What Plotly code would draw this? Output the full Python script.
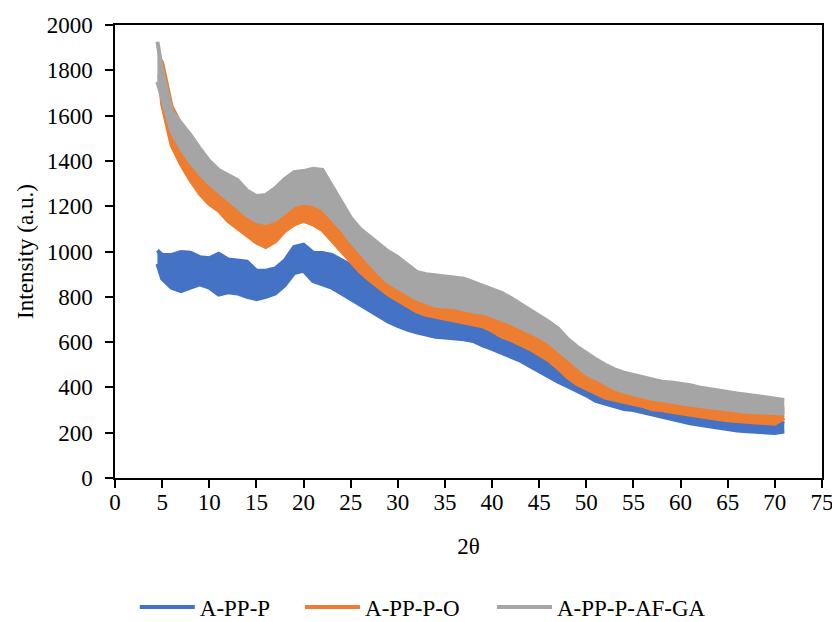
import plotly.graph_objects as go

# 2θ grid (degrees)
two_theta = [4.5] + list(range(5, 72))
two_theta_o = [4.7] + list(range(5, 72))

# A-PP-P band (upper / lower envelope of the noisy trace)
appp_hi = [1005, 985, 985, 998, 995, 975, 970, 990, 965, 960, 955, 915, 915, 925, 960,
           1020, 1030, 995, 993, 985, 960, 940, 900, 860, 825, 795, 770, 748, 732, 720,
           712, 708, 705, 700, 692, 685, 675, 655, 630, 595, 570, 545, 515, 490, 455,
           430, 410, 390, 370, 355, 345, 335, 320, 310, 300, 292, 285, 278, 275, 271,
           268, 262, 258, 255, 252, 250, 255, 240]
appp_lo = [945, 880, 840, 825, 840, 855, 840, 810, 820, 815, 800, 790, 800, 815, 850,
           905, 915, 870, 855, 840, 815, 790, 765, 742, 715, 690, 672, 655, 643, 632,
           624, 620, 617, 612, 605, 585, 570, 552, 535, 518, 495, 470, 450, 425, 405,
           385, 365, 340, 328, 315, 305, 300, 290, 282, 270, 262, 250, 242, 235, 228,
           222, 215, 210, 206, 204, 202, 199, 205]

# A-PP-P-O band
apppo_hi = [1850, 1835, 1640, 1560, 1470, 1410, 1360, 1320, 1290, 1260, 1220, 1190, 1180,
            1190, 1225, 1250, 1255, 1250, 1240, 1200, 1150, 1100, 1050, 1005, 965, 930,
            900, 870, 845, 830, 820, 815, 810, 800, 790, 780, 770, 755, 735, 715, 690,
            665, 640, 605, 570, 540, 500, 475, 450, 430, 415, 400, 390, 380, 372, 365,
            358, 350, 343, 337, 332, 327, 322, 318, 315, 312, 310, 308]
apppo_lo = [1780, 1650, 1470, 1385, 1315, 1255, 1210, 1180, 1135, 1105, 1070, 1040, 1020,
            1045, 1090, 1120, 1135, 1120, 1095, 1050, 1000, 955, 910, 874, 840, 810, 785,
            760, 735, 720, 712, 705, 698, 688, 680, 670, 650, 625, 610, 592, 570, 545,
            520, 485, 445, 415, 395, 375, 355, 345, 337, 330, 318, 303, 300, 292, 285,
            278, 272, 266, 260, 255, 250, 248, 245, 243, 240, 265]

# A-PP-P-AF-GA band
appag_hi = [1926, 1800, 1620, 1570, 1515, 1455, 1400, 1360, 1335, 1315, 1270, 1245, 1250,
            1280, 1320, 1350, 1355, 1365, 1360, 1290, 1220, 1150, 1100, 1065, 1030, 1000,
            975, 940, 910, 900, 896, 892, 888, 880, 865, 850, 835, 818, 795, 770, 745,
            720, 690, 660, 615, 580, 550, 525, 500, 480, 465, 455, 441, 433, 425, 422,
            418, 410, 400, 392, 386, 380, 373, 368, 364, 358, 353, 345]
appag_lo = [1750, 1680, 1530, 1455, 1395, 1345, 1300, 1265, 1230, 1200, 1160, 1135, 1125,
            1140, 1170, 1205, 1215, 1210, 1190, 1145, 1100, 1045, 995, 950, 905, 865, 840,
            815, 792, 775, 760, 757, 755, 745, 735, 730, 715, 700, 685, 665, 645, 625,
            600, 565, 530, 495, 460, 440, 415, 395, 380, 368, 360, 350, 345, 338, 330,
            323, 318, 312, 308, 302, 297, 293, 290, 288, 287, 285]

series = [
    ("A-PP-P", two_theta, appp_hi, appp_lo, "#4472C4", "legend", 0.162),
    ("A-PP-P-O", two_theta_o, apppo_hi, apppo_lo, "#ED7D31", "legend2", 0.3606),
    ("A-PP-P-AF-GA", two_theta, appag_hi, appag_lo, "#A5A5A5", "legend3", 0.5913),
]

FONT = "'Liberation Serif', 'Times New Roman', Times, serif"

fig = go.Figure()
legends = {}
for name, xs, hi, lo, col, lg, lx in series:
    fig.add_trace(go.Scatter(x=xs, y=hi, mode="lines", name=name,
                             line=dict(color=col, width=4), legendgroup=name,
                             legend=lg, hoverinfo="skip"))
    fig.add_trace(go.Scatter(x=xs, y=lo, mode="lines", name=name,
                             line=dict(color=col, width=4), legendgroup=name,
                             legend=lg, fill="tonexty", fillcolor=col,
                             showlegend=False, hoverinfo="skip"))
    legends[lg] = dict(orientation="h", xref="container", yref="container",
                       x=lx, xanchor="left", y=0.024, yanchor="middle",
                       font=dict(family=FONT, size=23, color="black"),
                       itemwidth=55, bgcolor="rgba(0,0,0,0)")

axis_common = dict(showline=True, linecolor="black", linewidth=1.5, mirror=True,
                   ticks="outside", ticklen=8, tickwidth=1.5, tickcolor="black",
                   showgrid=False, zeroline=False, automargin=False,
                   ticklabeloverflow="allow",
                   tickfont=dict(family=FONT, size=23, color="black"))

fig.update_layout(
    width=832, height=622,
    margin=dict(l=115, r=10, t=25, b=144),
    paper_bgcolor="white", plot_bgcolor="white",
    font=dict(family=FONT, size=23, color="black"),
    xaxis=dict(range=[0, 75], tickmode="linear", tick0=0, dtick=5,
               ticklabelstandoff=-5,
               title=dict(text="2θ", font=dict(family=FONT, size=23), standoff=24),
               **axis_common),
    yaxis=dict(range=[0, 2000], tickmode="linear", tick0=0, dtick=200,
               ticklabelstandoff=8,
               title=dict(text="Intensity (a.u.)", font=dict(family=FONT, size=23), standoff=7),
               **axis_common),
    showlegend=True,
    **legends,
)

fig.write_html("out.html", config={"displayModeBar": False},
               post_script="document.body.style.margin='0';document.body.style.overflow='hidden';")
